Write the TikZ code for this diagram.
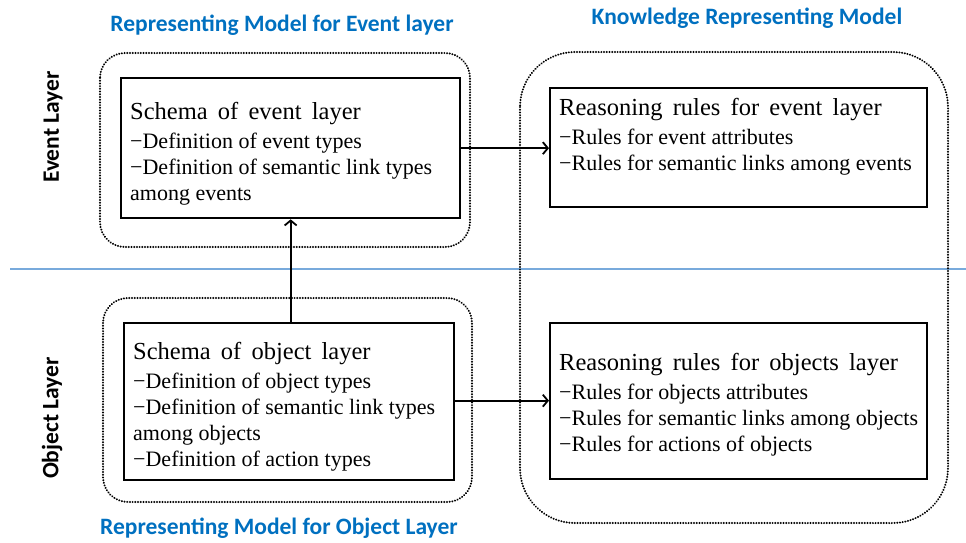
\documentclass[tikz,border=0pt]{standalone}
\usepackage{fontspec}
\setmainfont{Liberation Serif}
\newfontfamily\calib{Carlito}
\usetikzlibrary{arrows.meta}
\definecolor{ttlblue}{RGB}{0,112,192}
\definecolor{linblue}{RGB}{120,170,220}
\tikzset{
  dotbox/.style={draw, line width=2.2pt, dash pattern=on 0.01pt off 2.7pt, line cap=round},
  solidbox/.style={draw, line width=2.3pt, minimum width=#1, anchor=north west, inner sep=0pt},
  arr/.style={line width=2pt, -{Straight Barb[length=5pt,width=12pt,line width=1.8pt]}},
  ttl/.style={font=\calib\bfseries\fontsize{23.5}{26}\selectfont, text=ttlblue, inner sep=0pt},
  side/.style={font=\calib\bfseries\fontsize{23.5}{26}\selectfont, rotate=90, inner sep=0pt},
  txt/.style={anchor=north west, inner sep=0pt, align=left, font=\fontsize{22}{26}\selectfont},
}
\newcommand{\hd}[1]{{\fontsize{24.5}{26}\selectfont #1}\\[3pt]}
\begin{document}
\begin{tikzpicture}[x=1pt,y=-1pt]
\useasboundingbox (0,0) rectangle (966,542);
% blue separator
\draw[linblue, line width=1.5pt] (10,269) -- (966,269);
% dotted groups
\draw[dotbox, rounded corners=25pt] (100,53) rectangle (470,247);
\draw[dotbox, rounded corners=25pt] (103,298) rectangle (472,502);
\draw[dotbox, rounded corners=55pt] (520,52) rectangle (948,523);
% solid boxes
\node[solidbox=339pt, minimum height=140pt] (se) at (120,77) {};
\node[solidbox=330pt, minimum height=157pt] (so) at (123,322) {};
\node[solidbox=377pt, minimum height=119pt] (re) at (549,87) {};
\node[solidbox=377pt, minimum height=156pt] (ro) at (549,322) {};
% texts
\node[txt] (tse) at (130,102) {\hd{Schema\, of\, event\, layer}−Definition of event types\\−Definition of semantic link types\\among events};
\node[txt] (tso) at (133,342) {\hd{Schema\, of\, object\, layer}−Definition of object types\\−Definition of semantic link types\\among objects\\−Definition of action types};
\node[txt] (tre) at (559,98) {\hd{Reasoning\, rules\, for\, event\, layer}−Rules for event attributes\\−Rules for semantic links among events};
\node[txt] (tro) at (559,353) {\hd{Reasoning\, rules\, for\, objects\, layer}−Rules for objects attributes\\−Rules for semantic links among objects\\−Rules for actions of objects};
% arrows
\draw[arr] (so.north -| se.south) -- (se.south);
\draw[arr] (se.east) -- (se.east -| re.west);
\draw[arr] ([yshift=1pt]so.east) -- ([yshift=1pt]so.east -| ro.west);
% titles
\node[ttl] (t1) at (282,25) {Representing Model for Event layer};
\node[ttl] (t2) at (747,18) {Knowledge Representing Model};
\node[ttl] (t3) at (279,528) {Representing Model for Object Layer};
\node[side] (s1) at (53,127) {Event Layer};
\node[side] (s2) at (52,418) {Object Layer};
\end{tikzpicture}
\end{document}
